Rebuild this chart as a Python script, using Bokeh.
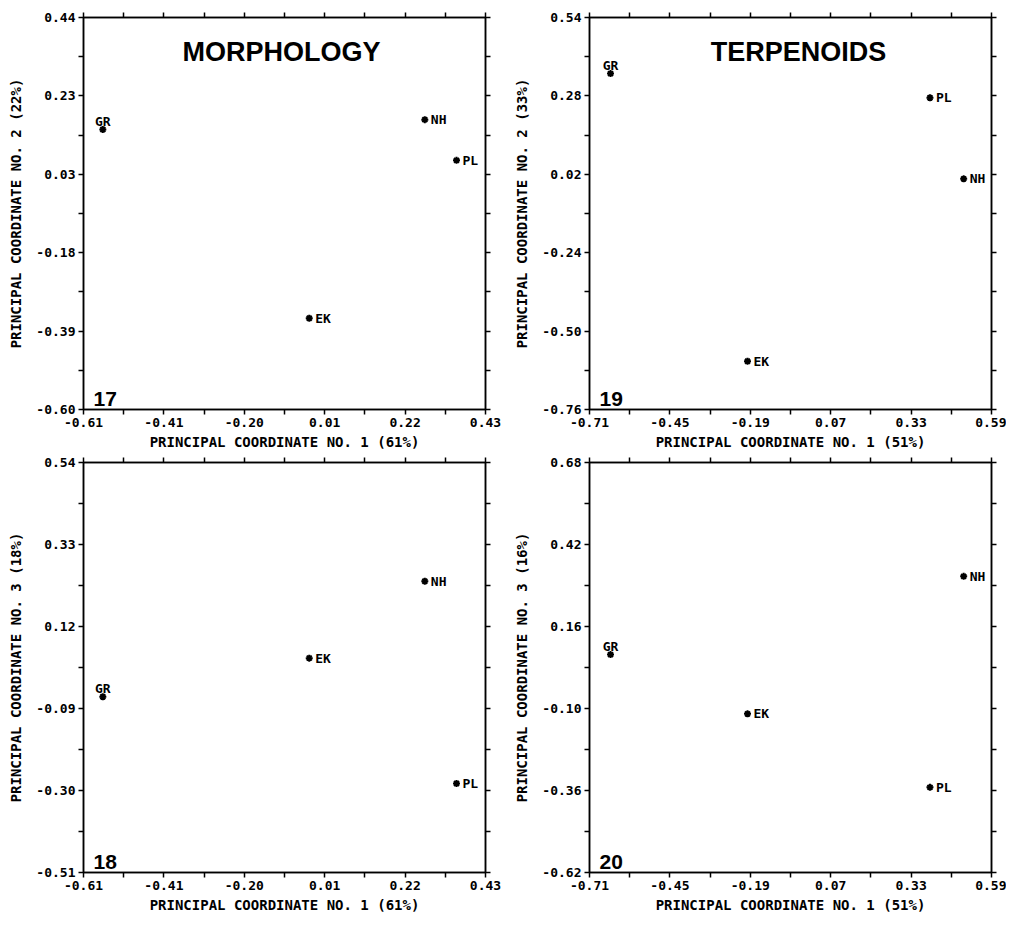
from bokeh.plotting import figure
from bokeh.models import (FixedTicker, LinearAxis, Label, ColumnDataSource, Range1d,
                          CustomLabelingPolicy)
from bokeh.layouts import column, row
from bokeh.core.properties import value
from bokeh.embed import file_html
from bokeh.resources import INLINE

# ---- data ----
names = ["GR", "NH", "PL", "EK"]

morph_pc1 = [-0.560, 0.273, 0.355, -0.026]
morph_pc2 = [0.143, 0.169, 0.061, -0.358]
morph_pc3 = [-0.060, 0.236, -0.282, 0.039]

terp_pc1 = [-0.642, 0.500, 0.391, -0.199]
terp_pc2 = [0.354, 0.005, 0.274, -0.600]
terp_pc3 = [0.071, 0.319, -0.350, -0.117]

morph_x_labels = ["-0.61", "-0.41", "-0.20", "0.01", "0.22", "0.43"]
morph_y2_labels = ["-0.60", "-0.39", "-0.18", "0.03", "0.23", "0.44"]
morph_y3_labels = ["-0.51", "-0.30", "-0.09", "0.12", "0.33", "0.54"]
terp_x_labels = ["-0.71", "-0.45", "-0.19", "0.07", "0.33", "0.59"]
terp_y2_labels = ["-0.76", "-0.50", "-0.24", "0.02", "0.28", "0.54"]
terp_y3_labels = ["-0.62", "-0.36", "-0.10", "0.16", "0.42", "0.68"]

x_title_morph = "PRINCIPAL COORDINATE NO. 1 (61%)"
x_title_terp = "PRINCIPAL COORDINATE NO. 1 (51%)"
y_titles = ["PRINCIPAL COORDINATE NO. 2 (22%)", "PRINCIPAL COORDINATE NO. 2 (33%)",
            "PRINCIPAL COORDINATE NO. 3 (18%)", "PRINCIPAL COORDINATE NO. 3 (16%)"]
panel_titles = ["MORPHOLOGY", "TERPENOIDS", "", ""]
panel_numbers = ["17", "19", "18", "20"]

MONO = "DejaVu Sans Mono"


def ticks_for(labels):
    a, b = float(labels[0]), float(labels[-1])
    step = (b - a) / 5.0
    major = [round(a + i * step, 6) for i in range(6)]
    minor = [round(a + (i + 0.5) * step, 6) for i in range(5)]
    return a, b, major, minor


def style_axis(ax, show_labels, label_standoff=4):
    ax.axis_line_width = 1.5
    ax.axis_line_color = "black"
    ax.major_tick_line_width = 1.5
    ax.minor_tick_line_width = 1.5
    ax.major_tick_line_color = "black"
    ax.minor_tick_line_color = "black"
    ax.major_tick_out = 5
    ax.major_tick_in = 0
    ax.minor_tick_out = 5
    ax.minor_tick_in = 0
    if show_labels:
        ax.major_label_text_font = MONO
        ax.major_label_text_font_style = "bold"
        ax.major_label_text_font_size = "13px"
        ax.major_label_text_color = "black"
        ax.major_label_standoff = 3
        ax.axis_label_text_font = MONO
        ax.axis_label_text_font_style = "bold"
        ax.axis_label_text_font_size = "14px"
        ax.axis_label_text_color = "black"
        ax.axis_label_standoff = label_standoff
    else:
        # tick marks only: no label is kept by the labeling policy
        ax.major_label_text_font_size = "1px"
        ax.major_label_standoff = 0
        ax.major_label_policy = CustomLabelingPolicy(
            code="for (const i of indices) if (i < 0) yield i")


def make_panel(xs, ys, xlabels, ylabels, xtitle, ytitle, title, number,
               width, height, bl, br, bt, bb, title_dx):
    x0, x1, xmaj, xmin = ticks_for(xlabels)
    y0, y1, ymaj, ymin = ticks_for(ylabels)
    p = figure(width=width, height=height, x_range=Range1d(x0, x1), y_range=Range1d(y0, y1),
               x_axis_type=None, y_axis_type=None, output_backend="svg",
               toolbar_location=None, min_border_left=bl, min_border_right=br,
               min_border_top=bt, min_border_bottom=bb)
    p.outline_line_color = "black"
    p.outline_line_width = 1.5
    p.background_fill_color = "white"
    p.border_fill_color = "white"

    xt = FixedTicker(ticks=xmaj, minor_ticks=xmin)
    yt = FixedTicker(ticks=ymaj, minor_ticks=ymin)

    bottom = LinearAxis(ticker=xt, axis_label=xtitle,
                        major_label_overrides={t: s for t, s in zip(xmaj, xlabels)})
    left = LinearAxis(ticker=yt, axis_label=ytitle,
                      major_label_overrides={t: s for t, s in zip(ymaj, ylabels)})
    top = LinearAxis(ticker=xt)
    right = LinearAxis(ticker=yt)
    style_axis(bottom, True, 4)
    style_axis(left, True, 9)
    style_axis(top, False)
    style_axis(right, False)
    p.add_layout(bottom, "below")
    p.add_layout(left, "left")
    p.add_layout(top, "above")
    p.add_layout(right, "right")

    align = ["center" if n == "GR" else "left" for n in names]
    base = ["alphabetic" if n == "GR" else "middle" for n in names]
    xo = [0 if n == "GR" else 6 for n in names]
    yo = [-8 if n == "GR" else 0 for n in names]
    src = ColumnDataSource(dict(x=xs, y=ys, name=names, align=align, base=base, xo=xo, yo=yo))
    p.scatter(x="x", y="y", source=src, marker="asterisk", size=7, line_width=2,
              line_color="black")
    p.text(x="x", y="y", text="name", source=src, x_offset="xo", y_offset="yo",
           text_align="align", text_baseline="base", text_font=value(MONO),
           text_font_style="bold", text_font_size=value("13px"), text_color="black")

    if title:
        p.add_layout(Label(x=(x0 + x1) / 2, y=y1, x_offset=title_dx, y_offset=-34, text=title,
                           text_align="center", text_baseline="alphabetic",
                           text_font="Liberation Sans", text_font_style="bold",
                           text_font_size="27px", text_color="black"))
    p.add_layout(Label(x=x0, y=y0, x_offset=10, y_offset=11, text=number,
                       text_align="left", text_baseline="alphabetic",
                       text_font="Liberation Sans", text_font_style="bold",
                       text_font_size="21px", text_color="black"))
    return p


p1 = make_panel(morph_pc1, morph_pc2, morph_x_labels, morph_y2_labels, x_title_morph,
                y_titles[0], panel_titles[0], panel_numbers[0], 510, 453, 83, 25, 17, 44, -3)
p2 = make_panel(terp_pc1, terp_pc2, terp_x_labels, terp_y2_labels, x_title_terp,
                y_titles[1], panel_titles[1], panel_numbers[1], 496, 453, 79, 15, 17, 44, 8)
p3 = make_panel(morph_pc1, morph_pc3, morph_x_labels, morph_y3_labels, x_title_morph,
                y_titles[2], panel_titles[2], panel_numbers[2], 510, 463, 83, 25, 7, 44, 0)
p4 = make_panel(terp_pc1, terp_pc3, terp_x_labels, terp_y3_labels, x_title_terp,
                y_titles[3], panel_titles[3], panel_numbers[3], 496, 463, 79, 15, 7, 44, 0)

layout = column(row(p1, p2), row(p3, p4))
open("out.html", "w").write(file_html(layout, INLINE))
